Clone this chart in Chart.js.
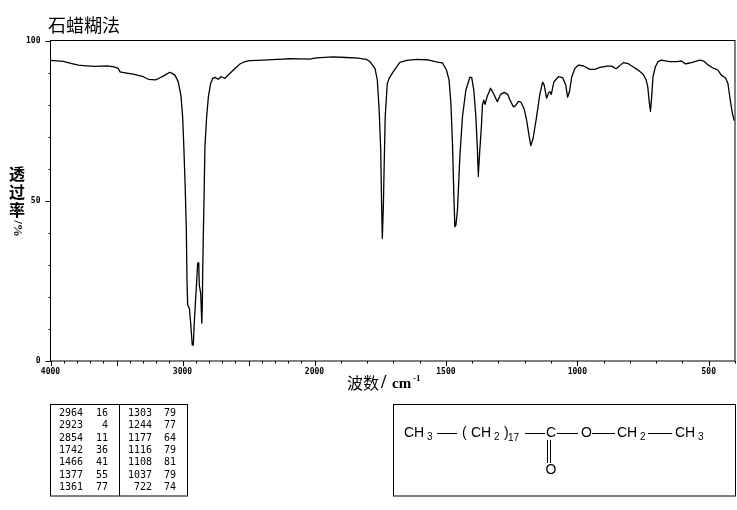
<!DOCTYPE html>
<html><head><meta charset="utf-8">
<style>html,body{margin:0;padding:0;background:#fff}#w{position:relative;width:737px;height:510px}</style>
<script src="https://cdn.jsdelivr.net/npm/chart.js@4"></script>
</head><body><div id="w"><canvas id="c" width="737" height="510"></canvas></div>
<script>
const wavenumbers=[4000,3903,3789,3663,3574,3511,3486,3473,3373,3297,3259,3203,3146,3095,3057,3032,3011,2999,2989,2979,2971,2966,2961,2948,2938,2926,2918,2911,2892,2885,2877,2873,2862,2854,2850,2847,2842,2837,2830,2817,2804,2787,2771,2754,2729,2709,2678,2640,2564,2527,2489,2286,2186,2034,1992,1929,1833,1802,1789,1770,1761,1754,1748,1745,1742,1738,1735,1731,1723,1716,1700,1675,1649,1611,1573,1541,1513,1498,1488,1481,1475,1470,1466,1462,1456,1447,1437,1424,1418,1409,1402,1394,1386,1380,1377,1371,1365,1361,1356,1351,1343,1330,1318,1304,1292,1278,1265,1256,1243,1236,1224,1215,1203,1193,1183,1177,1168,1155,1142,1132,1126,1117,1109,1104,1099,1089,1072,1056,1044,1037,1030,1021,1009,996,977,952,933,914,888,870,853,840,825,807,788,769,750,739,732,727,722,718,712,703,693,680,649,623,604,588,566,534,519,503,486,465,452,436,427,418,410,403];
const transmittance=[93.8,93.5,92.3,91.9,92.1,91.7,91.2,90.2,89.5,88.7,87.9,87.7,88.9,90.1,89.2,87.1,82.5,76.2,65.8,53.4,40.9,25.3,17.5,16.4,11.8,5,5,11.8,25.3,30.5,30.7,23.7,21.1,11.8,16.9,27.4,39.8,50.2,66.9,76.2,82.5,86.6,88.2,88.5,87.9,88.7,88.2,89.8,92.7,93.4,93.7,94.1,94.3,94.2,94.6,94.9,94.5,94.1,93.4,91.3,87.7,78.3,65.8,50.2,38.3,48.1,60.6,76.2,86.6,88.2,90.3,93.2,93.8,94.1,94,93.4,93,90.8,87.7,80.4,67.9,52.3,41.9,42.4,47.1,63.7,76.2,84.6,86.1,88.5,88.5,84.6,76.2,65.8,57.5,65.8,73.1,79.9,81.4,80.1,82.5,85.1,83.3,80.9,83.2,83.8,83.2,81.4,79.3,79.6,81,80.8,78.8,75.2,70,67.2,69.5,76.2,83.5,87,86.1,82,83.7,84,83.2,87.1,88.7,88.4,86.1,82.3,84,88.7,91.3,92.3,92.1,91,91,91.6,92,92,91.2,92,93.1,92.8,91.8,90.8,89.5,87.9,85.6,81.4,77.8,81.4,88.7,91.8,93.4,93.9,93.4,93.4,93.6,92.7,93.1,93.9,93.6,92.4,91.5,90.8,89.2,88.3,86.6,81.4,77.3,75];
const xTickValues=[4000,3900,3800,3700,3600,3500,3400,3300,3200,3100,3000,2900,2800,2700,2600,2500,2400,2300,2200,2100,2000,1900,1800,1700,1600,1500,1400,1300,1200,1100,1000,900,800,700,600,500,400];
const xMajorLabels=[4000,3000,2000,1500,1000,500];
const xLongTicks=[4000,3500,3000,2500,2000,1500,1000,500];
const yTickValues=[0,10,20,30,40,50,60,70,80,90,100];
const yMajorLabels=[0,50,100];
const titleText="石蜡糊法";
const yTitleChars=["透","过","率"];
const yTitleUnit="/%";
const xTitleText="波数";
const xTitleSlash="/";
const xTitleUnit="cm";
const xTitleExp="-1";
const peakWave1=["2964","2923","2854","1742","1466","1377","1361"];
const peakT1=["16","4","11","36","41","55","77"];
const peakWave2=["1303","1244","1177","1116","1108","1037","722"];
const peakT2=["79","77","64","79","81","79","74"];

class IrScale extends Chart.LinearScale{
  _frac(v){const B=264/684.5;return v>=2000?(4000-v)/2000*B:B+(2000-v)/1600*(1-B);}
  getPixelForValue(v){return this.left+this._frac(v)*this.width;}
  getValueForPixel(p){const B=264/684.5,f=(p-this.left)/this.width;return f<=B?4000-f/B*2000:2000-(f-B)/(1-B)*1600;}
}
IrScale.id='irscale';IrScale.defaults=Chart.LinearScale.defaults;
Chart.register(IrScale);

const MONO='"DejaVu Sans Mono",monospace',CJK='"Noto Sans CJK SC",sans-serif',SANS='"Liberation Sans",sans-serif',SERIF='"Liberation Serif",serif';
function line(c,a,b,d,e){c.beginPath();c.moveTo(a,b);c.lineTo(d,e);c.stroke();}
function txt(c,s,x,y,font,align){c.font=font;c.textAlign=align||'left';c.textBaseline='middle';c.fillText(s,x,y);}
const extras={id:'extras',afterDraw(ch){
  const c=ch.ctx,X=ch.scales.x,Y=ch.scales.y;c.save();c.strokeStyle='#000';c.fillStyle='#000';c.lineWidth=1;
  const a=ch.chartArea;c.strokeRect(a.left,a.top,a.right-a.left,a.bottom-a.top);
  xTickValues.forEach(v=>{const p=Math.round(X.getPixelForValue(v))+.5;line(c,p,a.bottom,p,a.bottom+(xLongTicks.includes(v)?5:2.5));});
  yTickValues.forEach(v=>{const p=Math.round(Y.getPixelForValue(v))+.5;line(c,a.left,p,a.left-(yMajorLabels.includes(v)?5:2),p);});
  txt(c,titleText,48,25,'18px '+CJK);
  yTitleChars.forEach((s,i)=>txt(c,s,17,173.5+i*18.3,'bold 16px '+CJK,'center'));
  c.save();c.translate(17,228.5);c.rotate(Math.PI/2);txt(c,yTitleUnit,0,0,'bold 13px '+SERIF,'center');c.restore();
  txt(c,xTitleText,347,383,'16px '+CJK);
  txt(c,xTitleSlash,381,383,'bold 19px '+SERIF);
  txt(c,xTitleUnit,392,384,'bold 15px '+SERIF);
  txt(c,xTitleExp,413,379,'bold 9px '+SERIF);
  c.strokeRect(50.5,404.5,137,91.5);line(c,119.5,404.5,119.5,496);
  const f='10px '+MONO;
  peakWave1.forEach((s,i)=>{const y=413.3+i*12.4;
    txt(c,s,83,y,f,'right');txt(c,peakT1[i],108,y,f,'right');
    txt(c,peakWave2[i],152,y,f,'right');txt(c,peakT2[i],176,y,f,'right');});
  c.strokeRect(393.5,404.5,342,91.5);
  const g='14px '+SANS,s3='10px '+SANS;
  txt(c,'CH',404,433,g);txt(c,'3',427,437,s3);line(c,437,433.5,457,433.5);
  txt(c,'(',462,433,g);txt(c,'CH',471,433,g);txt(c,'2',494,437,s3);txt(c,')',504,433,g);txt(c,'17',508,438,s3);
  line(c,525,433.5,545,433.5);txt(c,'C',546,433,g);line(c,557,433.5,578,433.5);
  txt(c,'O',581,433,g);line(c,592,433.5,615,433.5);txt(c,'CH',617,433,g);txt(c,'2',640,437,s3);
  line(c,648,433.5,672,433.5);txt(c,'CH',675,433,g);txt(c,'3',698,437,s3);
  line(c,547.5,440,547.5,463);line(c,550.5,440,550.5,463);
  txt(c,'O',551,470,g,'center');
  c.restore();
}};
new Chart(document.getElementById('c'),{type:'line',
 data:{datasets:[{data:wavenumbers.map((w,i)=>({x:w,y:transmittance[i]})),borderColor:'#000',borderWidth:1.3,borderJoinStyle:'round',pointRadius:0,tension:0.001,fill:false}]},
 plugins:[extras],
 options:{responsive:false,animation:false,
  layout:{padding:{left:0,top:40.5,right:2,bottom:0}},
  plugins:{legend:{display:false},tooltip:{enabled:false},title:{display:false}},
  scales:{
   x:{type:'irscale',min:400,max:4000,
      afterBuildTicks:s=>{s.ticks=xMajorLabels.map(v=>({value:v}));},
      afterFit:s=>{s.height=510-361;},
      grid:{display:false,drawTicks:false},border:{display:false},
      ticks:{autoSkip:false,maxRotation:0,padding:6,color:'#000',font:{family:MONO,size:8,weight:'bold'},callback:v=>String(v)}},
   y:{type:'linear',min:0,max:100,
      afterBuildTicks:s=>{s.ticks=yMajorLabels.map(v=>({value:v}));},
      afterFit:s=>{s.width=50.5;},
      grid:{display:false,drawTicks:false},border:{display:false},
      ticks:{padding:10,color:'#000',font:{family:MONO,size:8,weight:'bold'},callback:v=>String(v)}}
  }}});
</script></body></html>
